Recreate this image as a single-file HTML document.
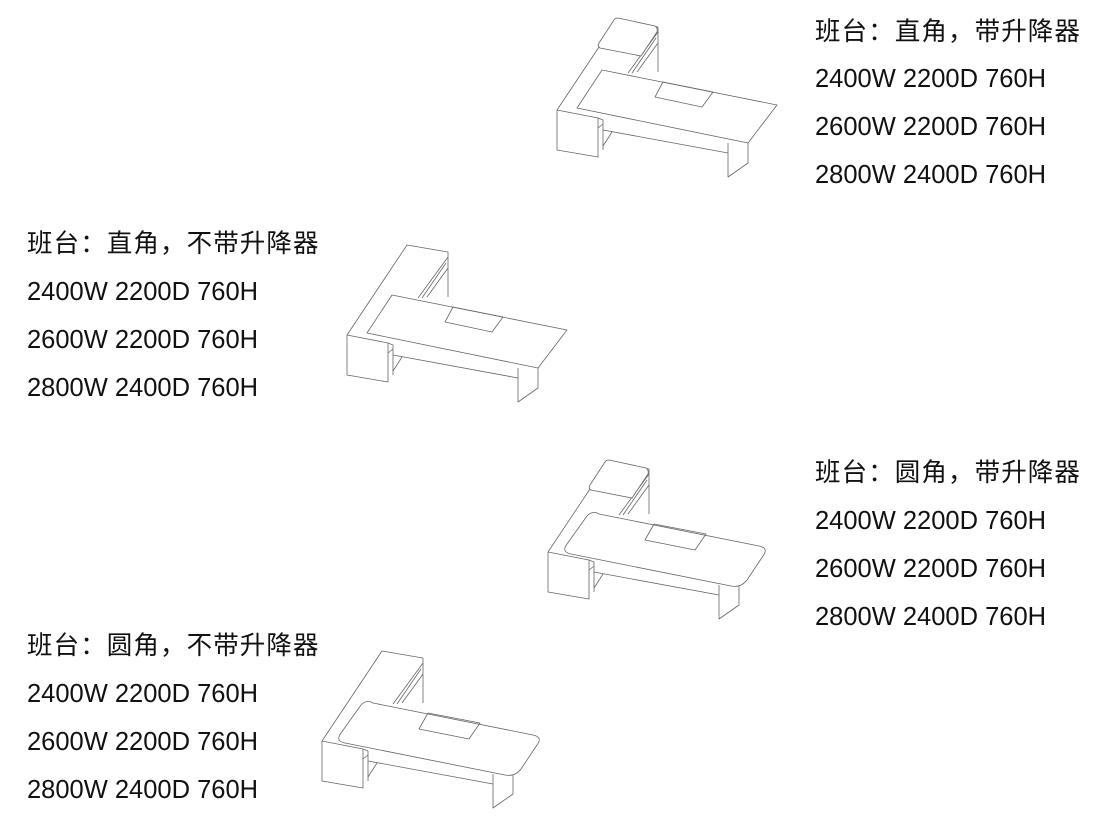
<!DOCTYPE html>
<html><head><meta charset="utf-8"><style>
body{margin:0;width:1102px;height:839px;background:#fff;position:relative;overflow:hidden}
.t{position:absolute;font-family:"Liberation Sans","Noto Sans CJK SC",sans-serif;font-size:25.5px;color:#111;line-height:28px;white-space:nowrap}
.c{letter-spacing:1.1px}
svg{position:absolute;left:0;top:0}
</style></head><body>
<svg width="1102" height="839" viewBox="0 0 1102 839">
<defs>
<g id="base" fill="none" stroke="#666" stroke-width="0.8" stroke-linejoin="round">
<path d="M17,100 L77,10 L118,17 L118,62"/>
<path d="M118,22 L88,63 M116,28 L92,63 M118,33 L97,62"/>
<path d="M17,100 L58,108 L58,147 L17,140 Z"/>
<path d="M58,108 L63,110 L63,140 M58,118 L63,114"/>
<path d="M63,120 L188,143 M63,136 L72,122"/>
<path d="M188,133 L188,167 L208,153 L208,133"/>
</g>
<g id="sq" fill="#fff" stroke="#666" stroke-width="0.8" stroke-linejoin="round">
<path d="M62,60 L237,95 L208,133 L37,98 Z"/>
<path d="M123,72 L173,82 L162,97 L115,87 Z" fill="none"/>
</g>
<g id="rd" fill="#fff" stroke="#666" stroke-width="0.8" stroke-linejoin="round">
<path d="M68,62 Q62,58 56,64 L36,92 Q30,100 40,102 L200,134 Q210,136 216,128 L232,104 Q238,96 228,94 Z"/>
<path d="M123,72 L175,82 L164,98 L114,88 Z" fill="none"/>
</g>
<g id="top" fill="#fff" stroke="#666" stroke-width="0.8">
<path d="M78,8 L115,16 Q118,18 117,22 L101,46 L60,38 Q57,36 59,33 L74,10 Q75,8 78,8 Z"/>
</g>
</defs>
<g transform="translate(540,10)"><use href="#base"/><use href="#sq"/><use href="#top"/></g>
<g transform="translate(330,235)"><use href="#base"/><use href="#sq"/></g>
<g transform="translate(531,452)"><use href="#base"/><use href="#rd"/><use href="#top"/></g>
<g transform="translate(305,641)"><use href="#base"/><use href="#rd"/></g>
</svg>
<div class="t c" style="left:815px;top:18px">班台：直角，带升降器</div>
<div class="t" style="left:815px;top:65px">2400W 2200D 760H</div>
<div class="t" style="left:815px;top:113px">2600W 2200D 760H</div>
<div class="t" style="left:815px;top:161px">2800W 2400D 760H</div>
<div class="t c" style="left:27px;top:230px">班台：直角，不带升降器</div>
<div class="t" style="left:27px;top:278px">2400W 2200D 760H</div>
<div class="t" style="left:27px;top:326px">2600W 2200D 760H</div>
<div class="t" style="left:27px;top:374px">2800W 2400D 760H</div>
<div class="t c" style="left:815px;top:459px">班台：圆角，带升降器</div>
<div class="t" style="left:815px;top:507px">2400W 2200D 760H</div>
<div class="t" style="left:815px;top:555px">2600W 2200D 760H</div>
<div class="t" style="left:815px;top:603px">2800W 2400D 760H</div>
<div class="t c" style="left:27px;top:632px">班台：圆角，不带升降器</div>
<div class="t" style="left:27px;top:680px">2400W 2200D 760H</div>
<div class="t" style="left:27px;top:728px">2600W 2200D 760H</div>
<div class="t" style="left:27px;top:776px">2800W 2400D 760H</div>
</body></html>
